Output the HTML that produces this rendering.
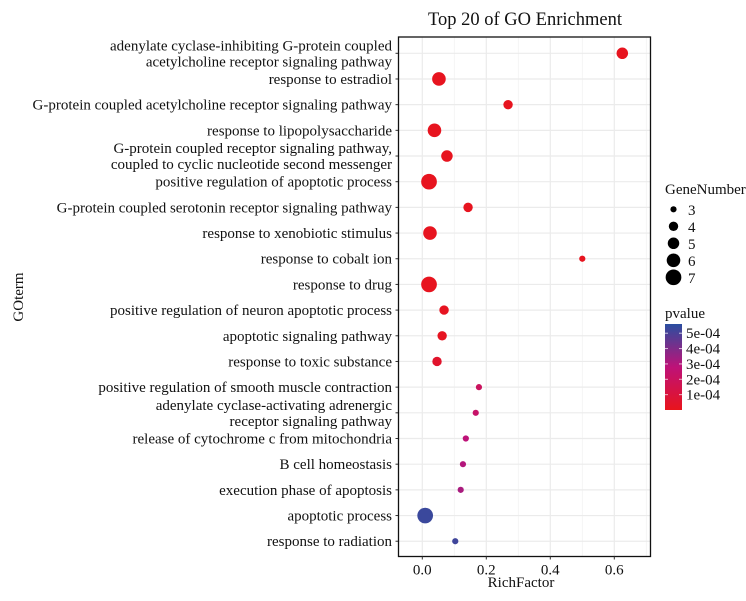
<!DOCTYPE html>
<html><head><meta charset="utf-8"><style>
body{margin:0;background:#fff;}
svg text{font-family:"Liberation Serif",serif;fill:#111;}
</style></head><body>
<svg id="c" width="746" height="596"></svg>
<script>
const terms=["adenylate cyclase-inhibiting G-protein coupled|acetylcholine receptor signaling pathway","response to estradiol","G-protein coupled acetylcholine receptor signaling pathway","response to lipopolysaccharide","G-protein coupled receptor signaling pathway,|coupled to cyclic nucleotide second messenger","positive regulation of apoptotic process","G-protein coupled serotonin receptor signaling pathway","response to xenobiotic stimulus","response to cobalt ion","response to drug","positive regulation of neuron apoptotic process","apoptotic signaling pathway","response to toxic substance","positive regulation of smooth muscle contraction","adenylate cyclase-activating adrenergic|receptor signaling pathway","release of cytochrome c from mitochondria","B cell homeostasis","execution phase of apoptosis","apoptotic process","response to radiation"];
const richFactor=[0.625,0.052,0.268,0.038,0.077,0.021,0.143,0.024,0.5,0.021,0.068,0.062,0.046,0.177,0.167,0.136,0.127,0.12,0.009,0.103];
const geneNumber=[5,6,4,6,5,7,4,6,3,7,4,4,4,3,3,3,3,3,7,3];
const pvalue=[1e-5,1e-5,1e-5,1e-5,1e-5,1e-5,1e-5,1e-5,1e-5,1e-5,1.5e-5,1.5e-5,5e-5,2e-4,2.3e-4,2.8e-4,3e-4,3.2e-4,5.3e-4,5.2e-4];
const xTicks=[0,0.2,0.4,0.6];
const sizeLegend=[3,4,5,6,7];
const pTicks=[5e-4,4e-4,3e-4,2e-4,1e-4];

const NS="http://www.w3.org/2000/svg",svg=document.getElementById('c');
function mk(t,a,txt,p){const e=document.createElementNS(NS,t);for(const k in a)e.setAttribute(k,a[k]);if(txt!=null)e.textContent=txt;(p||svg).appendChild(e);return e;}
const L=398.5,R=650.5,T=37,B=556.5;
const xs=v=>422.3+v*320;
const ys=i=>53.3+i*25.68;
const rs=g=>g<=3?2.3:3.9+(g-4)*1.05;
const pLo=0,pHi=5.6e-4;
function lerp(a,b,t){return a.map((v,i)=>Math.round(v+(b[i]-v)*t));}
function col(p){let t=Math.min(1,Math.max(0,(p-pLo)/(pHi-pLo)));const s=[[232,20,28],[190,18,120],[42,78,160]];let c=t<0.5?lerp(s[0],s[1],t*2):lerp(s[1],s[2],(t-0.5)*2);return `rgb(${c})`;}

let g;
mk('text',{x:525,y:25,'font-size':18.5,'text-anchor':'middle',},'Top 20 of GO Enrichment');
for(const v of [-0.1,0.1,0.3,0.5,0.7]){const m=xs(v);if(m>L&&m<R){const gm=mk('line',{x1:m,x2:m,y1:T,y2:B,stroke:'#f3f3f3','stroke-width':0.8});}}
for(let i=0;i<xTicks.length;i++){const x=xs(xTicks[i]);
 g=mk('line',{x1:x,x2:x,y1:T,y2:B,stroke:'#ebebeb','stroke-width':1.2});
 }
for(let i=0;i<terms.length;i++){const y=ys(i);
 g=mk('line',{x1:L,x2:R,y1:y,y2:y,stroke:'#ebebeb','stroke-width':1.2});
 
 mk('line',{x1:L-3,x2:L,y1:y,y2:y,stroke:'#333'});
 const parts=terms[i].split('|');
 const t=mk('text',{x:392,y:y+5,'font-size':15,'text-anchor':'end'});
 
 if(parts.length==1)t.textContent=parts[0];
 else{mk('tspan',{x:392,y:y-3},parts[0],t);mk('tspan',{x:392,y:y+13},parts[1],t);}
}
for(let i=0;i<terms.length;i++){
 const c=mk('circle',{cx:xs(richFactor[i]),cy:ys(i),r:rs(geneNumber[i])+0.8,fill:col(pvalue[i])});
 
}
mk('rect',{x:L,y:T,width:R-L,height:B-T,fill:'none',stroke:'#111','stroke-width':1.3,});
for(const v of xTicks){const x=xs(v);mk('line',{x1:x,x2:x,y1:B,y2:B+3,stroke:'#333'});
 const t=mk('text',{x:x,y:B+18,'font-size':15,'text-anchor':'middle'},v.toFixed(1));
 }
mk('text',{x:521,y:587,'font-size':15,'text-anchor':'middle',},'RichFactor');
mk('text',{x:23,y:297,'font-size':15,'text-anchor':'middle',transform:'rotate(-90 23 297)',},'GOterm');
mk('text',{x:665,y:194,'font-size':15,},'GeneNumber');
for(let i=0;i<sizeLegend.length;i++){const y=209.3+i*17;
 const c=mk('circle',{cx:673.5,cy:y,r:rs(sizeLegend[i])+0.8,fill:'#000'});
 
 const t=mk('text',{x:688,y:y+5.5,'font-size':15},String(sizeLegend[i]));
 }
mk('text',{x:665,y:318,'font-size':15,},'pvalue');
const defs=mk('defs',{});const lg=mk('linearGradient',{id:'pg',x1:0,y1:1,x2:0,y2:0},null,defs);
const cbT=324,cbB=410,pv=p=>cbB-(p-pLo)/(pHi-pLo)*(cbB-cbT);
for(let k=0;k<=10;k++){const p=pLo+k/10*(pHi-pLo);mk('stop',{offset:k/10,'stop-color':col(p)},null,lg);}
mk('rect',{x:665,y:cbT,width:17,height:cbB-cbT,fill:'url(#pg)',});
for(const p of pTicks){const y=pv(p);
 mk('line',{x1:665,x2:668,y1:y,y2:y,stroke:'#fff','stroke-opacity':0.7});mk('line',{x1:679,x2:682,y1:y,y2:y,stroke:'#fff','stroke-opacity':0.7});
 const t=mk('text',{x:686,y:y+5,'font-size':15},(p/1e-4).toFixed(0)+'e-04');
 }
</script>
</body></html>
